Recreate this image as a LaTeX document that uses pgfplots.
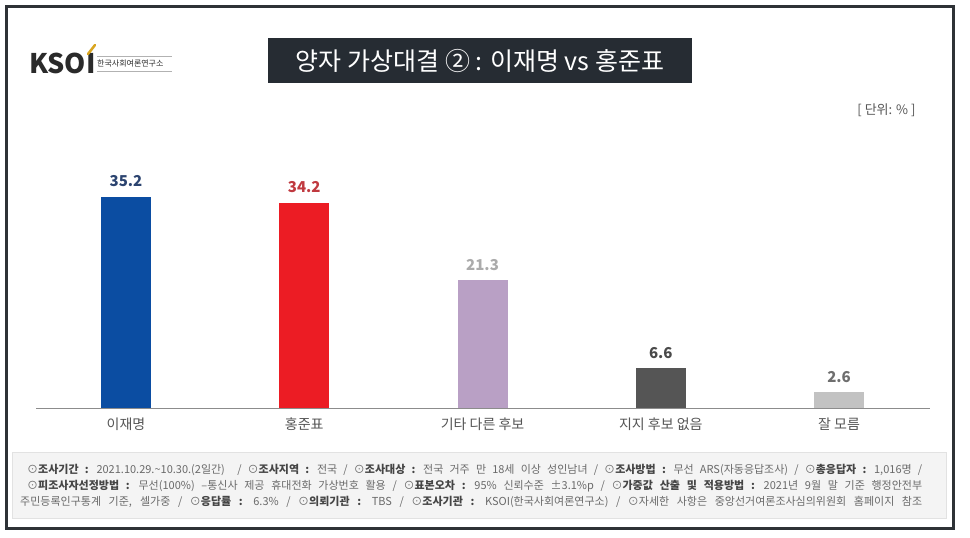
\documentclass[border=0pt]{standalone}
\usepackage{fontspec}
\setmainfont{Noto Sans CJK KR}
\newfontfamily\footfont[WordSpace=2.2]{Noto Sans CJK KR}
\usepackage{pgfplots}
\pgfplotsset{compat=1.18}

\definecolor{framec}{HTML}{2E3236}
\definecolor{titlebg}{HTML}{262C33}
\definecolor{logodark}{HTML}{2A2A2A}
\definecolor{logogold}{HTML}{D9A520}
\definecolor{barA}{HTML}{0B4DA2}
\definecolor{barB}{HTML}{EC1C24}
\definecolor{barC}{HTML}{B9A0C5}
\definecolor{barD}{HTML}{555555}
\definecolor{barE}{HTML}{C2C2C2}
\definecolor{labA}{HTML}{2C4470}
\definecolor{labB}{HTML}{C0393F}
\definecolor{labC}{HTML}{ABABAB}
\definecolor{labD}{HTML}{4A4A4A}
\definecolor{labE}{HTML}{6E6E6E}
\definecolor{axisc}{HTML}{8C8C8C}
\definecolor{catc}{HTML}{555555}
\definecolor{footbg}{HTML}{F4F4F4}
\definecolor{footline}{HTML}{E2E2E2}
\definecolor{foottxt}{HTML}{6A6A6A}
\definecolor{footbold}{HTML}{454545}

\newcommand{\B}[1]{{\bfseries\color{footbold}#1}}

\begin{document}
\begin{tikzpicture}[x=1pt,y=1pt]
% page and frame
\fill[white] (0,0) rectangle (970,-538);
\draw[framec, line width=3pt] (6.5,-6.5) rectangle (953.5,-528.5);

% logo
\node[anchor=west, inner sep=0, text=logodark, font=\fontsize{27}{27}\selectfont\bfseries] at (29,-63) {KSOI};
\draw[logogold, line width=2.5pt, line cap=round] (88,-54) -- (95,-45);
\draw[gray!60, line width=0.4pt] (97,-56) -- (172,-56);
\draw[gray!60, line width=0.4pt] (97,-71) -- (172,-71);
\node[anchor=west, inner sep=0, text=logodark, font=\fontsize{8}{8}\selectfont] at (97,-63.5) {한국사회여론연구소};

% title
\fill[titlebg] (268,-38) rectangle (692,-83);
\node[text=white, font=\fontsize{25}{28}\selectfont] at (480,-60.5) {양자 가상대결 ② : 이재명 vs 홍준표};

% unit
\node[anchor=east, text=catc, font=\fontsize{13}{15}\selectfont] at (919,-110) {[ 단위: \% ]};

\begin{axis}[
    at={(36pt,-408pt)}, anchor=south west,
    scale only axis, width=894pt, height=240pt,
    xmin=-0.505, xmax=4.51, ymin=0, ymax=40,
    axis y line=none, axis x line*=bottom,
    x axis line style={axisc, line width=1pt},
    xtick={0,1,2,3,4},
    xticklabels={이재명, 홍준표, 기타 다른 후보, 지지 후보 없음, 잘 모름},
    major tick length=0pt,
    xticklabel style={text=catc, font=\fontsize{14}{16}\selectfont, anchor=north, inner sep=0pt, yshift=-10pt},
    ybar, bar width=50pt, bar shift=0pt,
    clip=false,
    point meta=explicit symbolic,
    nodes near coords={\pgfplotspointmeta},
    every node near coord/.append style={anchor=base, inner sep=0pt, yshift=10pt, font=\fontsize{15}{15}\selectfont\bfseries},
]
\addplot[draw=none, fill=barA, every node near coord/.append style={text=labA}] coordinates {(0,35.2) [35.2]};
\addplot[draw=none, fill=barB, every node near coord/.append style={text=labB}] coordinates {(1,34.2) [34.2]};
\addplot[draw=none, fill=barC, every node near coord/.append style={text=labC}] coordinates {(2,21.3) [21.3]};
\addplot[draw=none, fill=barD, every node near coord/.append style={text=labD}] coordinates {(3,6.6) [6.6]};
\addplot[draw=none, fill=barE, every node near coord/.append style={text=labE}] coordinates {(4,2.6) [2.6]};
\end{axis}

% footer
\filldraw[fill=footbg, draw=footline, line width=0.6pt] (12,-452) rectangle (946,-518);
\begin{scope}[every node/.style={anchor=base west, inner sep=0, text=foottxt, font=\footfont\fontsize{11}{12}\selectfont}]
\node at (27,-473) {\makebox[895pt][s]{⊙\B{조사기간 :} 2021.10.29.\textasciitilde 10.30.(2일간) \ / ⊙\B{조사지역 :} 전국 / ⊙\B{조사대상 :} 전국 거주 만 18세 이상 성인남녀 / ⊙\B{조사방법 :} 무선 ARS(자동응답조사) / ⊙\B{총응답자 :} 1,016명 /}};
\node at (27,-489) {\makebox[895pt][s]{⊙\B{피조사자선정방법 :} 무선(100\%) –통신사 제공 휴대전화 가상번호 활용 / ⊙\B{표본오차 :} 95\% 신뢰수준 ±3.1\%p / ⊙\B{가중값 산출 및 적용방법 :} 2021년 9월 말 기준 행정안전부}};
\node at (20,-505) {\makebox[902pt][s]{주민등록인구통계 기준, 셀가중 / ⊙\B{응답률 :} 6.3\% / ⊙\B{의뢰기관 :} TBS / ⊙\B{조사기관 :} KSOI(한국사회여론연구소) / ⊙자세한 사항은 중앙선거여론조사심의위원회 홈페이지 참조}};
\end{scope}
\end{tikzpicture}
\end{document}
